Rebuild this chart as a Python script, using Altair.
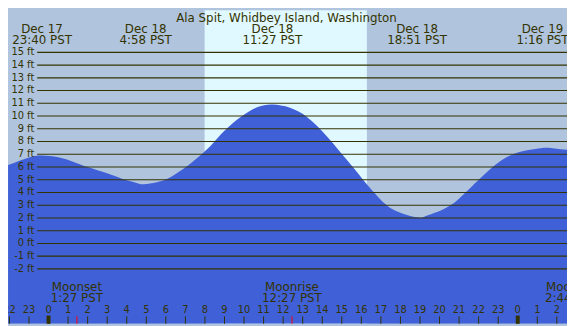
import altair as alt
import pandas as pd

# ---- chart size (page has an 8px margin, so the whole chart is 567x318) ----
W, H = 567, 318
SX, SY = 567 / 575, 318 / 326

# ---- colours / fonts ----
NIGHT = "#B0C4DE"
DAY = "#E0F8FF"
WATER = "#4060D8"
INK = "#333300"
FONT = "DejaVu Sans"

# ---- data ----
title_text = "Ala Spit, Whidbey Island, Washington"

# hours relative to Dec 18 00:00 PST, and tide height in feet
tide_hours = [-2.07, -1.0, -0.33, 0.5, 1.25, 2.0, 3.0, 3.75, 4.5, 4.97, 5.9, 6.5,
              7.2, 7.9, 8.4, 9.0, 9.9, 10.7, 11.45, 12.35, 13.2, 14.0, 14.8, 15.65,
              16.3, 16.8, 17.65, 18.85, 19.3, 20.15, 20.95, 21.8, 22.6, 23.4, 24.3,
              25.27, 25.9, 26.52]
tide_ft = [6.15, 6.75, 6.9, 6.77, 6.42, 6.0, 5.5, 5.08, 4.75, 4.66, 4.97, 5.45,
           6.2, 7.1, 7.85, 8.85, 10.0, 10.7, 10.9, 10.65, 9.95, 8.8, 7.4, 5.85,
           4.6, 3.75, 2.65, 2.05, 2.15, 2.65, 3.45, 4.7, 5.85, 6.75, 7.25,
           7.5, 7.46, 7.36]

grid_ft = list(range(-2, 16))
grid_labels = [f"{v} ft" for v in grid_ft]

hour_ticks = list(range(-2, 27))
hour_labels = [str(h % 24) for h in hour_ticks]
midnight_hours = [0, 24]

tide_event_hours = [-0.333, 4.967, 11.45, 18.85, 25.267]
tide_event_dates = ["Dec 17", "Dec 18", "Dec 18", "Dec 18", "Dec 19"]
tide_event_times = ["23:40 PST", "4:58 PST", "11:27 PST", "18:51 PST", "1:16 PST"]

moon_event_hours = [1.45, 12.45, 26.733]
moon_event_names = ["Moonset", "Moonrise", "Moonset"]
moon_event_times = ["1:27 PST", "12:27 PST", "2:44 PST"]

sunrise_hour, sunset_hour = 7.983, 16.283

x_domain = [-2.074, 26.52]
y_domain = [-6.30, 18.30]

# ---- tables ----
tide_df = pd.DataFrame({"h": tide_hours, "ft": tide_ft})
tide_df["base"] = y_domain[0]
grid_df = pd.DataFrame({"ft": grid_ft, "label": grid_labels})
hours_df = pd.DataFrame({"h": hour_ticks, "label": hour_labels})
mid_df = pd.DataFrame({"h": midnight_hours})
tev_df = pd.DataFrame({"h": tide_event_hours, "date": tide_event_dates, "time": tide_event_times})
mev_df = pd.DataFrame({"h": moon_event_hours, "name": moon_event_names, "time": moon_event_times})
day_df = pd.DataFrame({"h": [sunrise_hour], "h2": [sunset_hour]})
title_df = pd.DataFrame({"t": [title_text]})

xs = alt.Scale(domain=x_domain, nice=False, zero=False)
ys = alt.Scale(domain=y_domain, nice=False, zero=False)
X = alt.X("h:Q", scale=xs, axis=None)
Y = alt.Y("ft:Q", scale=ys, axis=None)

day = alt.Chart(day_df).mark_rect(color=DAY).encode(
    x=X, x2="h2:Q", y=alt.value(0), y2=alt.value(H))

water = alt.Chart(tide_df).mark_area(color=WATER, interpolate="natural", clip=True).encode(
    x=X, y=Y, y2="base:Q")

grid = alt.Chart(grid_df).mark_rule(color=INK, strokeWidth=1.2).encode(
    y=Y, x=alt.value(30 * SX), x2=alt.value(W))

grid_text = alt.Chart(grid_df).mark_text(
    align="right", baseline="middle", fontSize=10, font=FONT, color=INK).encode(
    y=Y, x=alt.value(27 * SX), text="label:N")

title = alt.Chart(title_df).mark_text(
    align="center", baseline="middle", fontSize=12, font=FONT, color=INK).encode(
    x=alt.value(286.5 * SX), y=alt.value(8 * SY), text="t:N")

tev_date = alt.Chart(tev_df).mark_text(
    align="center", baseline="middle", fontSize=12, font=FONT, color=INK).encode(
    x=X, y=alt.value(19.5 * SY), text="date:N")
tev_time = alt.Chart(tev_df).mark_text(
    align="center", baseline="middle", fontSize=12, font=FONT, color=INK).encode(
    x=X, y=alt.value(31.5 * SY), text="time:N")

mev_name = alt.Chart(mev_df).mark_text(
    align="center", baseline="middle", fontSize=12, font=FONT, color=INK).encode(
    x=X, y=alt.value(287.5 * SY), text="name:N")
mev_time = alt.Chart(mev_df).mark_text(
    align="center", baseline="middle", fontSize=12, font=FONT, color=INK).encode(
    x=X, y=alt.value(299.5 * SY), text="time:N")

hour_tick = alt.Chart(hours_df).mark_rule(color=INK, strokeWidth=1).encode(
    x=X, y=alt.value(318.3 * SY), y2=alt.value(H))
mid_tick = alt.Chart(mid_df).mark_rule(color=INK, strokeWidth=4).encode(
    x=X, y=alt.value(317.5 * SY), y2=alt.value(H))
moon_tick = alt.Chart(mev_df).mark_rule(color="#FF0000", strokeWidth=1).encode(
    x=X, y=alt.value(318.3 * SY), y2=alt.value(H))
hour_text = alt.Chart(hours_df).mark_text(
    align="center", baseline="middle", fontSize=10, font=FONT, color=INK).encode(
    x=X, y=alt.value(311.5 * SY), text="label:N")

chart = alt.layer(
    day, water, grid, grid_text, title, tev_date, tev_time,
    mev_name, mev_time, hour_tick, mid_tick, moon_tick, hour_text
).properties(
    width=W, height=H,
    autosize=alt.AutoSizeParams(type="none"),
    padding=0,
    background=NIGHT,
).configure_view(stroke=None)

chart.save("out.html", embed_options={"renderer": "svg", "actions": False})
